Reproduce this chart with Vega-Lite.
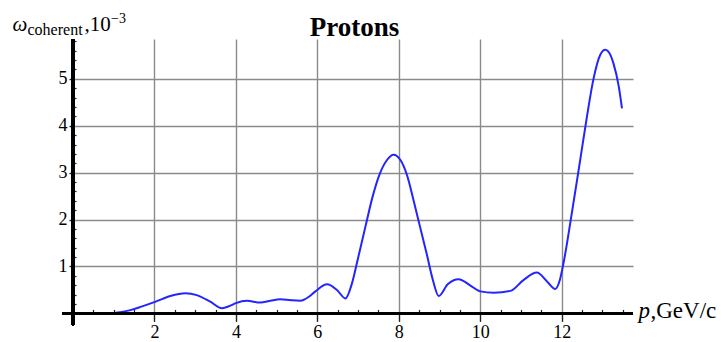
{
  "$schema": "https://vega.github.io/schema/vega-lite/v6.json",
  "autosize": "none",
  "width": 560,
  "height": 274.4,
  "padding": {"left": 73, "top": 39, "right": 92, "bottom": 28.6},
  "background": "white",
  "config": {"view": {"stroke": null}, "axis": {"labelFont": "Liberation Serif"}},
  "title": {
    "text": "−3", "frame": "group", "anchor": "start", "orient": "top",
    "font": "Liberation Serif", "fontSize": 14, "fontWeight": "normal", "color": "black",
    "baseline": "alphabetic", "offset": -24, "dx": 38
  },
  "data": {"values": [
    {"p": 0, "w": 0}, {"p": 0.5, "w": 0}, {"p": 0.9, "w": 0.005}, {"p": 1.2, "w": 0.03},
    {"p": 1.41, "w": 0.07}, {"p": 1.7, "w": 0.15}, {"p": 2.03, "w": 0.25}, {"p": 2.39, "w": 0.37},
    {"p": 2.76, "w": 0.43}, {"p": 3.04, "w": 0.39}, {"p": 3.37, "w": 0.25}, {"p": 3.66, "w": 0.11},
    {"p": 3.85, "w": 0.16}, {"p": 4.0, "w": 0.22}, {"p": 4.27, "w": 0.27}, {"p": 4.6, "w": 0.23},
    {"p": 4.85, "w": 0.27}, {"p": 5.09, "w": 0.3}, {"p": 5.35, "w": 0.28}, {"p": 5.58, "w": 0.27},
    {"p": 5.8, "w": 0.36}, {"p": 5.95, "w": 0.47}, {"p": 6.24, "w": 0.62}, {"p": 6.48, "w": 0.5},
    {"p": 6.69, "w": 0.32}, {"p": 6.85, "w": 0.64}, {"p": 6.97, "w": 1.07}, {"p": 7.18, "w": 1.85},
    {"p": 7.36, "w": 2.5}, {"p": 7.5, "w": 2.9}, {"p": 7.71, "w": 3.27}, {"p": 7.87, "w": 3.38},
    {"p": 8.04, "w": 3.27}, {"p": 8.2, "w": 2.95}, {"p": 8.36, "w": 2.42}, {"p": 8.52, "w": 1.85},
    {"p": 8.69, "w": 1.25}, {"p": 8.84, "w": 0.7}, {"p": 8.98, "w": 0.37}, {"p": 9.2, "w": 0.62},
    {"p": 9.47, "w": 0.73}, {"p": 9.75, "w": 0.6}, {"p": 10.0, "w": 0.47}, {"p": 10.33, "w": 0.44},
    {"p": 10.74, "w": 0.48}, {"p": 11.06, "w": 0.71}, {"p": 11.39, "w": 0.87}, {"p": 11.64, "w": 0.68},
    {"p": 11.84, "w": 0.52}, {"p": 11.95, "w": 0.7}, {"p": 12.05, "w": 1.1}, {"p": 12.25, "w": 2.15},
    {"p": 12.45, "w": 3.25}, {"p": 12.62, "w": 4.2}, {"p": 12.78, "w": 5.0}, {"p": 12.95, "w": 5.52},
    {"p": 13.07, "w": 5.62}, {"p": 13.2, "w": 5.5}, {"p": 13.27, "w": 5.33}, {"p": 13.4, "w": 4.84},
    {"p": 13.48, "w": 4.37}
  ]},
  "resolve": {"axis": {"x": "independent", "y": "independent"}},
  "layer": [
    {
      "mark": {"type": "line", "color": "#2424ff", "strokeWidth": 2, "interpolate": "monotone"},
      "encoding": {
        "x": {
          "field": "p", "type": "quantitative",
          "scale": {"domain": [0, 13.75], "nice": false, "zero": false},
          "axis": {
            "orient": "bottom", "values": [2, 4, 6, 8, 10, 12],
            "grid": true, "gridColor": "#8a8a8a", "gridWidth": 1.4,
            "domain": false, "ticks": true, "tickSize": 8, "tickColor": "#222", "tickWidth": 1.4,
            "labelFont": "Liberation Serif", "labelFontSize": 18, "labelColor": "black", "labelPadding": 2,
            "title": "p", "titleFont": "Liberation Serif", "titleFontStyle": "italic", "titleFontWeight": "normal",
            "titleFontSize": 23, "titleColor": "black", "titleX": 565, "titleY": 4,
            "titleAlign": "left", "titleBaseline": "alphabetic", "titleAngle": 0
          }
        },
        "y": {
          "field": "w", "type": "quantitative",
          "scale": {"domain": [0, 5.85], "nice": false, "zero": false},
          "axis": {
            "orient": "left", "values": [1, 2, 3, 4, 5],
            "grid": true, "gridColor": "#8a8a8a", "gridWidth": 1.4,
            "domain": false, "ticks": true, "tickSize": 4, "tickColor": "#222", "tickWidth": 1.4,
            "labelFont": "Liberation Serif", "labelFontSize": 18, "labelColor": "black", "labelPadding": 2,
            "title": "ω", "titleFont": "Liberation Serif", "titleFontStyle": "italic", "titleFontWeight": "normal",
            "titleFontSize": 21, "titleColor": "black", "titleX": -61, "titleY": -9,
            "titleAlign": "left", "titleBaseline": "alphabetic", "titleAngle": 0
          }
        }
      }
    },
    {
      "mark": {"type": "rule", "color": "black", "strokeWidth": 2.2},
      "encoding": {
        "x": {
          "datum": -0.27, "type": "quantitative",
          "scale": {"domain": [0, 13.75], "nice": false, "zero": false},
          "axis": {
            "orient": "bottom",
            "values": [0.5, 1, 1.5, 2.5, 3, 3.5, 4.5, 5, 5.5, 6.5, 7, 7.5, 8.5, 9, 9.5, 10.5, 11, 11.5, 12.5, 13, 13.5],
            "grid": false, "domain": false, "labels": false,
            "ticks": true, "tickSize": -4, "tickColor": "#222", "tickWidth": 1.2,
            "title": ",GeV/c", "titleFont": "Liberation Serif", "titleFontStyle": "normal", "titleFontWeight": "normal",
            "titleFontSize": 23, "titleColor": "black", "titleX": 577, "titleY": 4,
            "titleAlign": "left", "titleBaseline": "alphabetic", "titleAngle": 0
          }
        },
        "x2": {"datum": 13.75},
        "y": {
          "datum": 0, "type": "quantitative",
          "scale": {"domain": [0, 5.85], "nice": false, "zero": false},
          "axis": {
            "orient": "left", "values": [], "grid": false, "domain": false, "labels": false, "ticks": false,
            "title": ",10", "titleFont": "Liberation Serif", "titleFontStyle": "normal", "titleFontWeight": "normal",
            "titleFontSize": 21, "titleColor": "black", "titleX": 11, "titleY": -9,
            "titleAlign": "left", "titleBaseline": "alphabetic", "titleAngle": 0
          }
        }
      }
    },
    {
      "mark": {"type": "rule", "color": "black", "strokeWidth": 2.2},
      "encoding": {
        "x": {
          "datum": 0, "type": "quantitative",
          "scale": {"domain": [0, 13.75], "nice": false, "zero": false},
          "axis": {
            "orient": "top", "values": [], "grid": false, "domain": false, "labels": false, "ticks": false,
            "title": "Protons", "titleFont": "Liberation Serif", "titleFontWeight": "bold",
            "titleFontSize": 27, "titleColor": "black", "titleX": 281, "titleY": -4,
            "titleAlign": "center", "titleBaseline": "alphabetic", "titleAngle": 0
          }
        },
        "y": {
          "datum": -0.25, "type": "quantitative",
          "scale": {"domain": [0, 5.85], "nice": false, "zero": false},
          "axis": {
            "orient": "left",
            "values": [0.2, 0.4, 0.6, 0.8, 1.2, 1.4, 1.6, 1.8, 2.2, 2.4, 2.6, 2.8, 3.2, 3.4, 3.6, 3.8, 4.2, 4.4, 4.6, 4.8, 5.2, 5.4, 5.6, 5.8],
            "grid": false, "domain": false, "labels": false,
            "ticks": true, "tickSize": -3, "tickColor": "#222", "tickWidth": 1.2,
            "title": "coherent", "titleFont": "Liberation Serif", "titleFontStyle": "normal", "titleFontWeight": "normal",
            "titleFontSize": 16, "titleColor": "black", "titleX": -46, "titleY": -5,
            "titleAlign": "left", "titleBaseline": "alphabetic", "titleAngle": 0
          }
        },
        "y2": {"datum": 5.85}
      }
    }
  ]
}
